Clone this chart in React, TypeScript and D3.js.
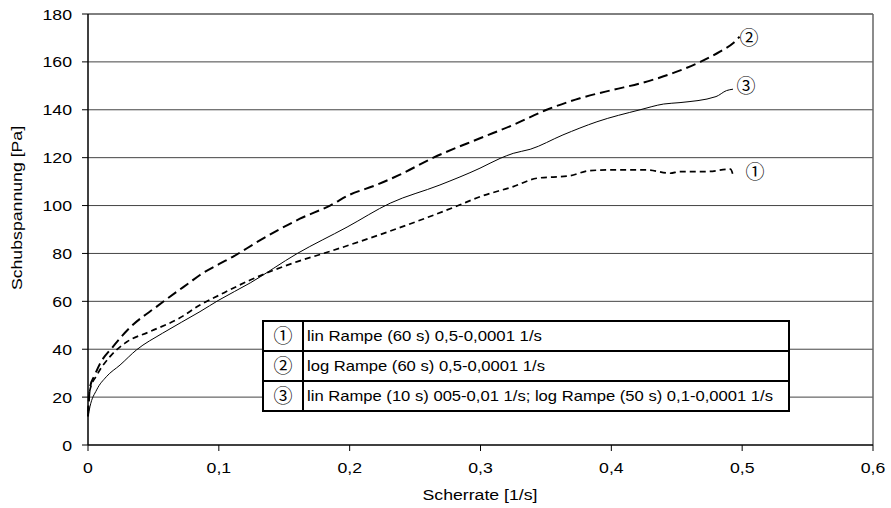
import React, { useEffect } from "react";
import * as d3 from "d3";

const xTicks = [0, 0.1, 0.2, 0.3, 0.4, 0.5, 0.6];
const yTicks = [0, 20, 40, 60, 80, 100, 120, 140, 160, 180];

// curve 1: lin Rampe (60 s)
const c1x = [0, 0.0015, 0.0066, 0.0168, 0.0295, 0.047, 0.07, 0.0856, 0.1, 0.124, 0.16, 0.18, 0.226, 0.282, 0.2996, 0.325, 0.343, 0.368, 0.3837, 0.4015, 0.427, 0.445, 0.4525, 0.473, 0.491, 0.493];
const c1y = [14, 23, 29, 36.9, 43, 47.3, 53, 58.5, 62.5, 68.9, 76.6, 80, 88.4, 99.8, 103.7, 107.9, 111.4, 112.4, 114.6, 114.9, 114.9, 113.5, 114.2, 114.2, 115.2, 112.8];

// curve 2: log Rampe (60 s)
const c2x = [0, 0.0015, 0.005, 0.0092, 0.019, 0.032, 0.053, 0.078, 0.0856, 0.1, 0.111, 0.13, 0.162, 0.185, 0.2, 0.22, 0.238, 0.264, 0.2996, 0.325, 0.3506, 0.376, 0.401, 0.422, 0.447, 0.468, 0.483, 0.493, 0.498];
const c2y = [12, 24, 29, 34, 41, 49, 58, 68, 71, 75.5, 78.7, 85, 94.5, 100, 104.5, 108.5, 112.8, 120, 128.1, 133.7, 140, 144.8, 148.3, 151, 155.3, 160, 164.3, 167.8, 170.5];

// curve 3: lin + log Rampe
const c3x = [0, 0.0015, 0.0066, 0.014, 0.0245, 0.037, 0.057, 0.0856, 0.1, 0.124, 0.16, 0.198, 0.231, 0.269, 0.2996, 0.315, 0.325, 0.338, 0.363, 0.389, 0.422, 0.44, 0.4525, 0.48, 0.488, 0.493];
const c3y = [11.8, 16, 23, 28.5, 33.4, 39.7, 46.7, 55.7, 60.5, 67.7, 80, 91, 101, 108.6, 115.6, 119.7, 121.8, 123.5, 129.5, 135, 140, 142.4, 143, 145.5, 148, 148.6];

const marks = ["①", "②", "③"];
const legendLabels = [
  "lin Rampe (60 s) 0,5-0,0001 1/s",
  "log Rampe (60 s) 0,5-0,0001 1/s",
  "lin Rampe (10 s) 005-0,01 1/s; log Rampe (50 s) 0,1-0,0001 1/s",
];
const legendLengths = [235, 238, 466];

const width = 891, height = 508;
const margin = { top: 14, right: 18, bottom: 63, left: 88 };

const x = d3.scaleLinear().domain([0, 0.6]).range([margin.left, width - margin.right]);
const y = d3.scaleLinear().domain([0, 180]).range([height - margin.bottom, margin.top]);

const line = d3.line<[number, number]>()
  .x(d => x(d[0]))
  .y(d => y(d[1]))
  .curve(d3.curveMonotoneX);

const zip = (xs: number[], ys: number[]) => xs.map((v, i) => [v, ys[i]] as [number, number]);

const fmt = (v: number) => (v === 0 ? "0" : String(v).replace(".", ","));

const sans = "'Liberation Sans', Arial, sans-serif";
const circ = "'Noto Sans CJK JP', 'DejaVu Serif', serif";

// wide-ish text, like the original rendering
function Label({ x: tx, y: ty, anchor = "start", rotate = 0, size = 15, children }: any) {
  return (
    <g transform={`translate(${tx},${ty}) rotate(${rotate}) scale(1.18,1)`}>
      <text textAnchor={anchor} fontFamily={sans} fontSize={size}>{children}</text>
    </g>
  );
}

function Mark({ x: mx, y: my, i }: any) {
  return (
    <text x={mx} y={my} dy="0.36em" textAnchor="middle" fontFamily={circ} fontSize={19}>{marks[i]}</text>
  );
}

export default function App() {
  useEffect(() => {
    document.body.style.margin = "0";
  }, []);

  const lx = 263, ly = 321, lw = 526, rowH = 30, divX = 303;

  return (
    <svg width={width} height={height} style={{ display: "block" }}>
      <rect width={width} height={height} fill="#fff" />
      {yTicks.map(t => (
        <g key={t}>
          {t > 0 && (
            <line x1={x(0)} x2={x(0.6)} y1={y(t)} y2={y(t)} stroke={t === 180 ? "#000" : "#444"} strokeWidth={1} />
          )}
          <line x1={x(0) - 6} x2={x(0)} y1={y(t)} y2={y(t)} stroke="#000" />
          <Label x={x(0) - 16} y={y(t) + 5.5} anchor="end">{t}</Label>
        </g>
      ))}
      <line x1={x(0.6)} x2={x(0.6)} y1={y(180)} y2={y(0)} stroke="#666" strokeWidth={1.5} />
      {xTicks.map(t => (
        <g key={t}>
          <line x1={x(t)} x2={x(t)} y1={y(0)} y2={y(0) + 6} stroke="#000" />
          <Label x={x(t)} y={y(0) + 28} anchor="middle">{fmt(t)}</Label>
        </g>
      ))}
      <line x1={x(0)} x2={x(0)} y1={y(180)} y2={y(0)} stroke="#000" strokeWidth={1.5} />
      <line x1={x(0)} x2={x(0.6)} y1={y(0)} y2={y(0)} stroke="#000" strokeWidth={1.5} />

      <path d={line(zip(c1x, c1y)) || ""} fill="none" stroke="#000" strokeWidth={1.7} strokeDasharray="6,4" />
      <path d={line(zip(c2x, c2y)) || ""} fill="none" stroke="#000" strokeWidth={2} strokeDasharray="10,5" />
      <path d={line(zip(c3x, c3y)) || ""} fill="none" stroke="#000" strokeWidth={1} />

      <Mark x={755} y={172} i={0} />
      <Mark x={749} y={38} i={1} />
      <Mark x={746} y={86} i={2} />

      <rect x={lx} y={ly} width={lw} height={rowH * 3} fill="#fff" stroke="#000" strokeWidth={2} />
      {[1, 2].map(i => (
        <line key={i} x1={lx} x2={lx + lw} y1={ly + rowH * i} y2={ly + rowH * i} stroke="#000" strokeWidth={2} />
      ))}
      <line x1={divX} x2={divX} y1={ly} y2={ly + rowH * 3} stroke="#000" strokeWidth={2} />
      {legendLabels.map((lab, i) => (
        <g key={i}>
          <Mark x={(lx + divX) / 2} y={ly + rowH * i + rowH / 2} i={i} />
          <text x={divX + 4} y={ly + rowH * i + rowH / 2 + 5} fontFamily={sans} fontSize={14.5}
            textLength={legendLengths[i]} lengthAdjust="spacingAndGlyphs">{lab}</text>
        </g>
      ))}

      <Label x={480} y={500} anchor="middle">Scherrate [1/s]</Label>
      <Label x={22} y={208} anchor="middle" rotate={-90}>Schubspannung [Pa]</Label>
    </svg>
  );
}
